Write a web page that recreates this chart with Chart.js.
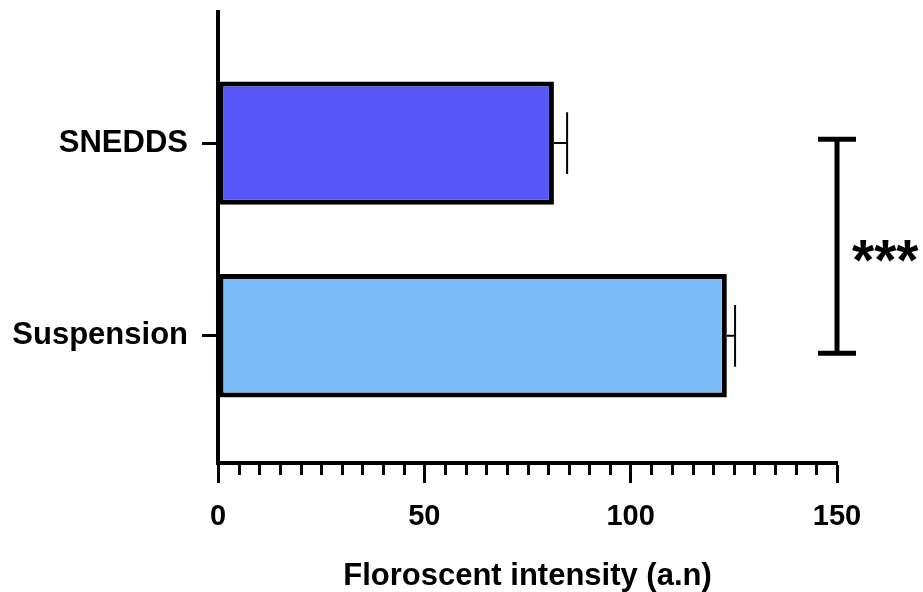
<!DOCTYPE html>
<html>
<head>
<meta charset="utf-8">
<script src="https://cdn.jsdelivr.net/npm/chart.js@4/dist/chart.umd.min.js"></script>
<style>
  html, body { margin: 0; padding: 0; background: #ffffff; }
  #wrap { width: 923px; height: 592px; }
</style>
</head>
<body>
<div id="wrap"><canvas id="c" width="923" height="592"></canvas></div>
<script>
// ---- data ----
const categories = ['SNEDDS', 'Suspension'];
const categoryPositions = [1, 2];
const meanValues = [81.4, 123.3];
const errorValues = [3.2, 2.0];
const barColors = ['#5656F9', '#7BBDF8'];
const xTickStep = 50;
const xMinorStep = 5;
const xMin = 0, xMax = 150;
const sigLabel = '***';
const sigX = 150;
const sigSpan = [0.98, 2.09];
const sigLabelY = 1.54;
const axisTitle = 'Floroscent intensity (a.n)';

const FONT = '"Liberation Sans", Arial, Helvetica, sans-serif';

const errorBarPlugin = {
  id: 'errorBars',
  afterDatasetsDraw(chart) {
    const ctx = chart.ctx;
    const xs = chart.scales.x;
    const meta = chart.getDatasetMeta(0);
    ctx.save();
    ctx.strokeStyle = '#000';
    ctx.lineWidth = 2;
    meta.data.forEach((bar, i) => {
      const xEnd = xs.getPixelForValue(meanValues[i] + errorValues[i]);
      const xBar = xs.getPixelForValue(meanValues[i]);
      const half = bar.height / 4;
      ctx.beginPath();
      ctx.moveTo(xBar, bar.y);
      ctx.lineTo(xEnd, bar.y);
      ctx.moveTo(xEnd, bar.y - half);
      ctx.lineTo(xEnd, bar.y + half);
      ctx.stroke();
    });
    ctx.restore();
  }
};

const minorTickPlugin = {
  id: 'minorTicks',
  afterDraw(chart) {
    const ctx = chart.ctx;
    const xs = chart.scales.x;
    const y0 = chart.chartArea.bottom;
    ctx.save();
    ctx.strokeStyle = '#000';
    ctx.lineWidth = 3;
    for (let v = xMin; v <= xMax; v += xMinorStep) {
      if (v % xTickStep === 0) continue;
      const px = Math.round(xs.getPixelForValue(v)) + 0.5;
      ctx.beginPath();
      ctx.moveTo(px, y0);
      ctx.lineTo(px, y0 + 12);
      ctx.stroke();
    }
    ctx.restore();
  }
};

const sigPlugin = {
  id: 'significance',
  afterDraw(chart) {
    const ctx = chart.ctx;
    const xs = chart.scales.x, ys = chart.scales.y;
    const x = xs.getPixelForValue(sigX);
    const yTop = ys.getPixelForValue(sigSpan[0]);
    const yBot = ys.getPixelForValue(sigSpan[1]);
    ctx.save();
    ctx.strokeStyle = '#000';
    ctx.lineWidth = 5;
    ctx.beginPath();
    ctx.moveTo(x, yTop); ctx.lineTo(x, yBot);
    ctx.moveTo(x - 19, yTop); ctx.lineTo(x + 19, yTop);
    ctx.moveTo(x - 19, yBot); ctx.lineTo(x + 19, yBot);
    ctx.stroke();
    ctx.fillStyle = '#000';
    const fs = 57;
    ctx.font = 'bold ' + fs + 'px ' + FONT;
    ctx.textAlign = 'left';
    ctx.textBaseline = 'alphabetic';
    const yc = ys.getPixelForValue(sigLabelY);
    ctx.fillText(sigLabel, x + 15, yc + 0.57 * fs);
    ctx.restore();
  }
};

new Chart(document.getElementById('c'), {
  type: 'bar',
  data: {
    datasets: [{
      data: categoryPositions.map((p, i) => ({ x: meanValues[i], y: p })),
      backgroundColor: barColors,
      borderColor: '#000',
      borderWidth: 5,
      borderSkipped: false,
      categoryPercentage: 0.8,
      barPercentage: 0.8
    }]
  },
  options: {
    indexAxis: 'y',
    responsive: false,
    animation: false,
    layout: { padding: { top: 12, right: 86, bottom: 0, left: 0 } },
    plugins: { legend: { display: false }, tooltip: { enabled: false } },
    scales: {
      x: {
        type: 'linear',
        min: xMin, max: xMax,
        afterFit(s) { s.height = 129; },
        ticks: {
          stepSize: xTickStep,
          color: '#000',
          font: { family: FONT, size: 29, weight: 'bold' },
          padding: 17,
          maxRotation: 0
        },
        grid: { drawOnChartArea: false, drawTicks: true, tickLength: 20, tickWidth: 3, tickColor: '#000', color: '#000' },
        border: { display: true, color: '#000', width: 4 },
        title: {
          display: true,
          text: axisTitle,
          color: '#000',
          font: { family: FONT, size: 31, weight: 'bold', lineHeight: 1 },
          padding: { top: 0, bottom: 0 }
        }
      },
      y: {
        type: 'linear',
        reverse: true,
        offset: false,
        min: 0.32, max: 2.66,
        afterFit(s) { s.width = 218; s.paddingTop = 0; s.paddingBottom = 0; },
        afterBuildTicks(s) { s.ticks = categoryPositions.map(v => ({ value: v })); },
        ticks: {
          color: '#000',
          font: { family: FONT, size: 31, weight: 'bold' },
          padding: 14,
          autoSkip: false,
          callback: (v, i) => categories[i]
        },
        grid: { offset: false, drawOnChartArea: false, drawTicks: true, tickLength: 16, tickWidth: 3, tickColor: '#000', color: '#000' },
        border: { display: true, color: '#000', width: 4 }
      }
    }
  },
  plugins: [errorBarPlugin, minorTickPlugin, sigPlugin]
});
</script>
</body>
</html>
